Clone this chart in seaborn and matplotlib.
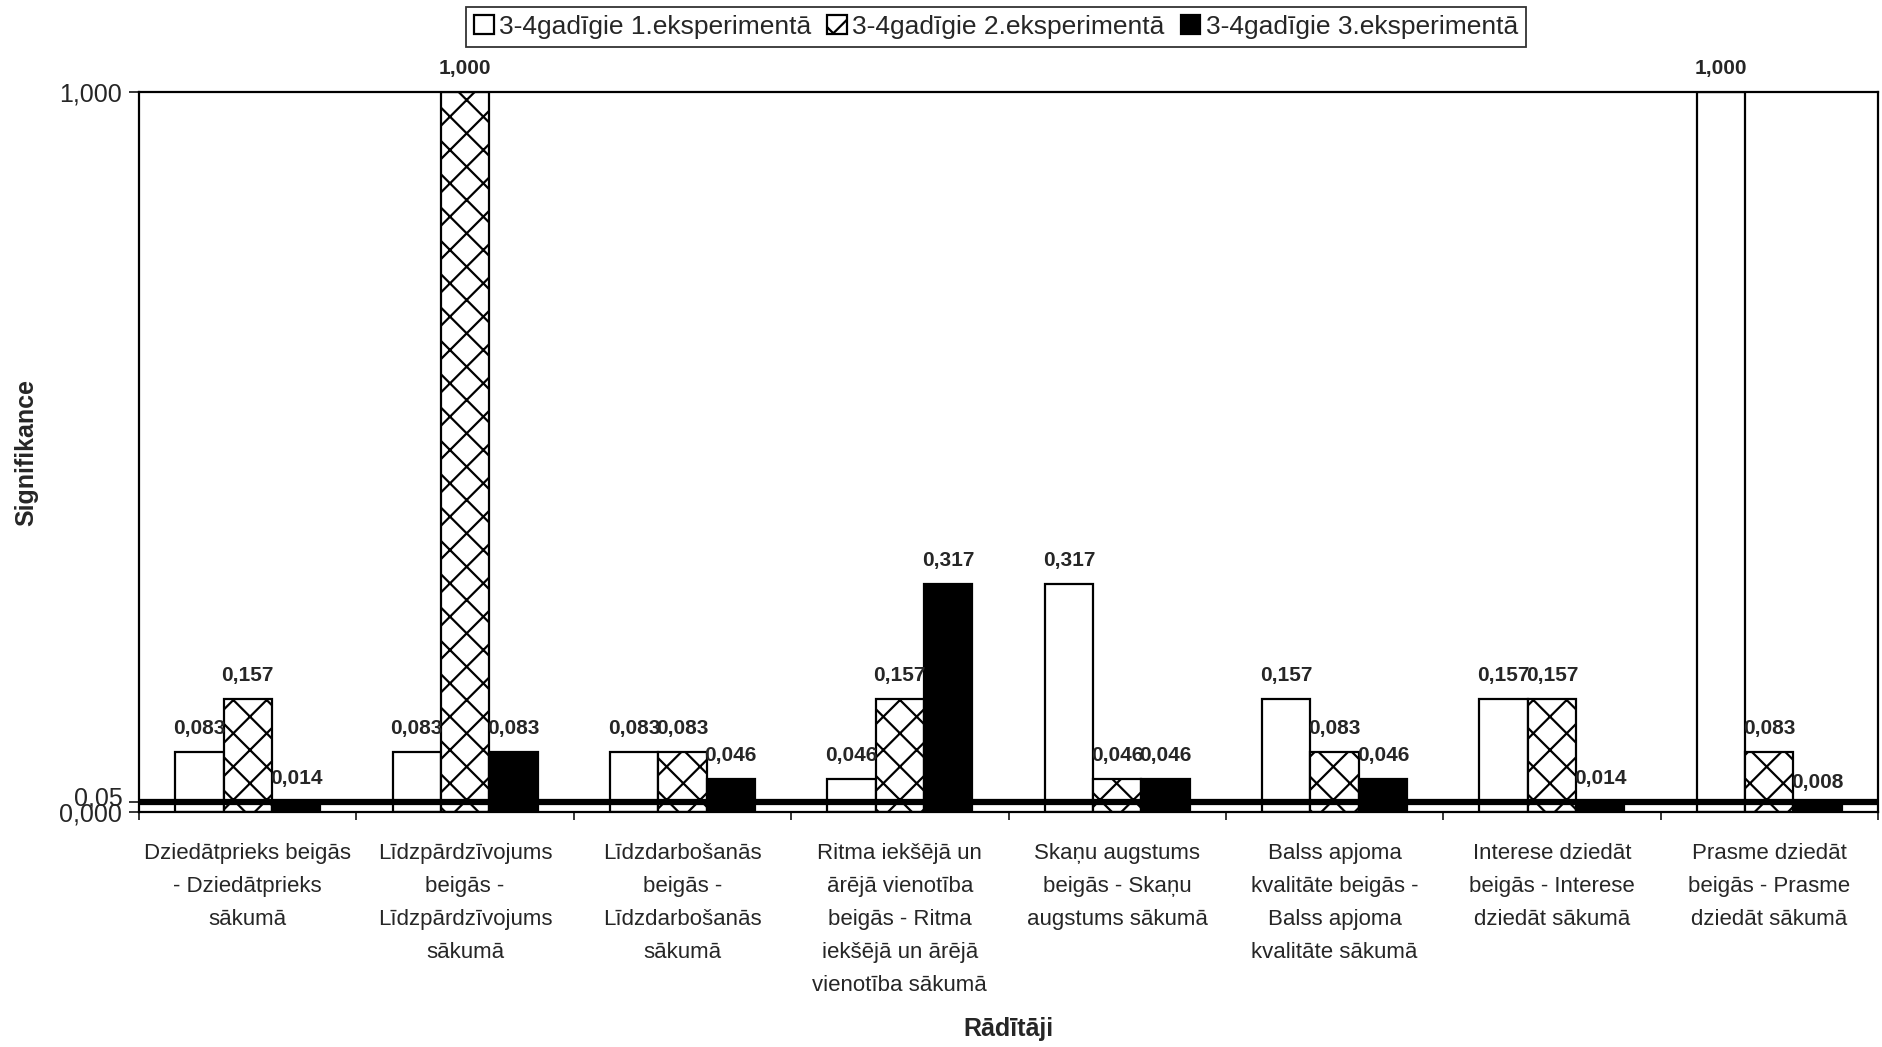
import numpy as np
import pandas as pd
import matplotlib
matplotlib.use("Agg")
import matplotlib.pyplot as plt
import matplotlib.transforms as mtransforms
import seaborn as sns

categories = [
    "Dziedātprieks beigās\n- Dziedātprieks\nsākumā",
    "Līdzpārdzīvojums\nbeigās -\nLīdzpārdzīvojums\nsākumā",
    "Līdzdarbošanās\nbeigās -\nLīdzdarbošanās\nsākumā",
    "Ritma iekšējā un\nārējā vienotība\nbeigās - Ritma\niekšējā un ārējā\nvienotība sākumā",
    "Skaņu augstums\nbeigās - Skaņu\naugstums sākumā",
    "Balss apjoma\nkvalitāte beigās -\nBalss apjoma\nkvalitāte sākumā",
    "Interese dziedāt\nbeigās - Interese\ndziedāt sākumā",
    "Prasme dziedāt\nbeigās - Prasme\ndziedāt sākumā",
]
series_names = [
    "3-4gadīgie 1.eksperimentā",
    "3-4gadīgie 2.eksperimentā",
    "3-4gadīgie 3.eksperimentā",
]
exp1 = [0.083, 0.083, 0.083, 0.046, 0.317, 0.157, 0.157, 1.000]
exp2 = [0.157, 1.000, 0.083, 0.157, 0.046, 0.083, 0.157, 0.083]
exp3 = [0.014, 0.083, 0.046, 0.317, 0.046, 0.046, 0.014, 0.008]

# reference line as drawn in the picture (labelled 0,05)
threshold_level = 0.014
threshold_label = "0,05"
y_ticks = [0.0, threshold_level, 1.0]
y_tick_labels = ["0,000", threshold_label, "1,000"]

rows = []
for name, vals in zip(series_names, [exp1, exp2, exp3]):
    for cat, v in zip(categories, vals):
        rows.append({"Rādītāji": cat, "Sērija": name, "Signifikance": v})
df = pd.DataFrame(rows)

sns.set_style("white")
plt.rcParams["font.family"] = ["Liberation Sans", "DejaVu Sans"]
plt.rcParams["hatch.linewidth"] = 1.6

W, H = 1882, 1047
fig = plt.figure(figsize=(W / 100, H / 100), dpi=100)
ax = fig.add_axes([139 / W, 1 - 812 / H, (1878 - 139) / W, (812 - 92) / H])

sns.barplot(data=df, x="Rādītāji", y="Signifikance", hue="Sērija",
            palette=["white", "white", "black"], saturation=1,
            width=0.667, gap=0, edgecolor="black", linewidth=1.6,
            legend=False, ax=ax)

for patch in ax.containers[1].patches:
    patch.set_hatch("x")

for cont, vals in zip(ax.containers, [exp1, exp2, exp3]):
    texts = ax.bar_label(cont, labels=[f"{v:.3f}".replace(".", ",") for v in vals],
                         padding=10, fontsize=15, fontweight="bold")
    for t in texts:
        t.set_annotation_clip(False)

ax.axhline(threshold_level, color="black", lw=4.5, zorder=4)

ax.set_ylim(0, 1.0)
ax.set_xlim(-0.5, len(categories) - 0.5)
ax.set_yticks(y_ticks)
ax.set_yticklabels(y_tick_labels, fontsize=18)
ax.tick_params(axis="y", direction="out", length=7, width=1.3, left=True, pad=5)
# the 0,05 label sits a little above the 0,000 label
ylabels = ax.get_yticklabels()
ylabels[1].set_transform(ylabels[1].get_transform()
                         + mtransforms.ScaledTranslation(0, 6 / 100, fig.dpi_scale_trans))
ax.tick_params(axis="x", which="major", length=0, pad=22)
ax.set_xticks(np.arange(-0.5, len(categories)), minor=True)
ax.tick_params(axis="x", which="minor", direction="out", length=6, width=1.3, bottom=True)
for lbl in ax.get_xticklabels():
    lbl.set_fontsize(16)
    lbl.set_linespacing(1.75)

for sp in ax.spines.values():
    sp.set_visible(True)
    sp.set_color("black")
    sp.set_linewidth(1.6)

ax.set_ylabel("Signifikance", fontsize=18, fontweight="bold")
ax.yaxis.set_label_coords(-0.058, 0.5)
ax.set_xlabel("Rādītāji", fontsize=18, fontweight="bold")
ax.xaxis.set_label_coords(0.5, -0.285)

leg = fig.legend(ax.containers, series_names, loc="center",
                 bbox_to_anchor=(996 / W, 1 - 27 / H), ncol=3, fontsize=19,
                 frameon=True, fancybox=False, edgecolor="black",
                 handlelength=0.75, handleheight=0.75, handletextpad=0.2,
                 columnspacing=0.6, borderpad=0.3)
leg.get_frame().set_linewidth(1.3)

fig.savefig("out.png", dpi=100, facecolor="white")
